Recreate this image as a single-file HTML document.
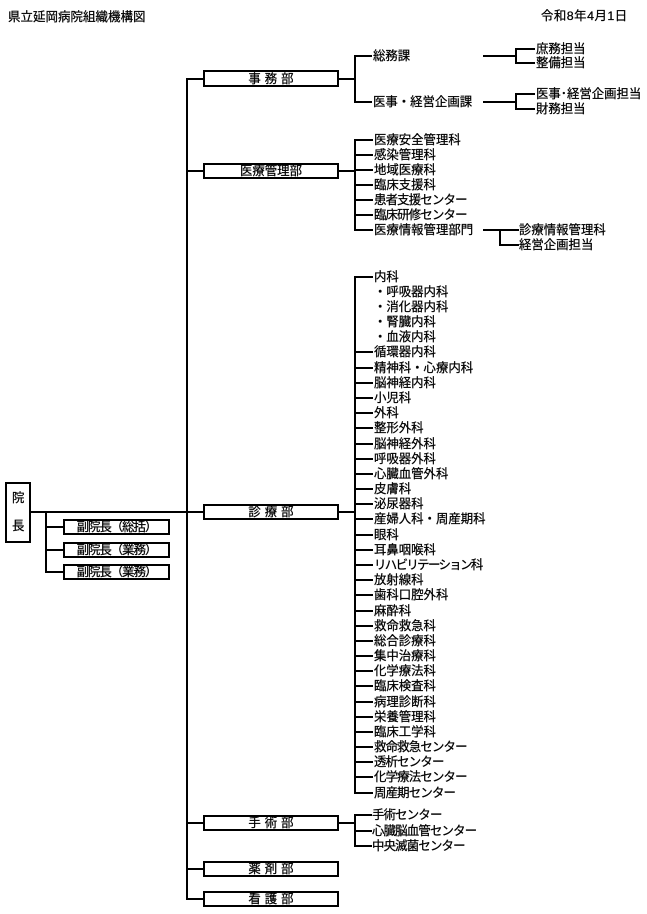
<!DOCTYPE html>
<html><head><meta charset="utf-8">
<style>
html,body{margin:0;padding:0;background:#fff;}
body{width:647px;height:914px;position:relative;overflow:hidden;font-family:"Liberation Sans","Noto Sans CJK JP",sans-serif;color:#000;}
.t{position:absolute;font-size:12.4px;line-height:14px;white-space:nowrap;-webkit-text-stroke:0.25px #000;}
.h{position:absolute;height:2px;background:#000;}
.v{position:absolute;width:2px;background:#000;}
.b{position:absolute;box-sizing:border-box;border:2px solid #000;background:#fff;display:flex;align-items:center;justify-content:center;font-size:12.4px;line-height:12px;white-space:nowrap;-webkit-text-stroke:0.25px #000;}
.sp{letter-spacing:4px;padding-left:4px;}
.k{letter-spacing:-0.8px;}
</style></head><body>

<div class="t" style="left:8px;top:10px;font-size:12.5px;">県立延岡病院組織機構図</div>
<div class="t" style="left:541px;top:9px;letter-spacing:0.5px;">令和8年4月1日</div>

<!-- trunk -->
<div class="v" style="left:186px;top:78px;height:822px;"></div>

<!-- 院長 -->
<div class="b" style="left:5px;top:482px;width:26px;height:61px;"></div>
<div class="t" style="left:12px;top:491px;">院</div>
<div class="t" style="left:12px;top:519px;">長</div>
<div class="h" style="left:30px;top:511px;width:173px;"></div>

<!-- 副院長 -->
<div class="v" style="left:45px;top:511px;height:62px;"></div>
<div class="h" style="left:45px;top:526px;width:18px;"></div>
<div class="h" style="left:45px;top:549px;width:18px;"></div>
<div class="h" style="left:45px;top:571px;width:18px;"></div>
<div class="b" style="left:63px;top:519px;width:107px;height:16px;letter-spacing:-1px;">副院長（総括）</div>
<div class="b" style="left:63px;top:542px;width:107px;height:16px;letter-spacing:-1px;">副院長（業務）</div>
<div class="b" style="left:63px;top:564px;width:107px;height:16px;letter-spacing:-1px;">副院長（業務）</div>

<!-- 事務部 -->
<div class="h" style="left:186px;top:78px;width:17px;"></div>
<div class="b sp" style="left:203px;top:70px;width:136px;height:17px;">事務部</div>
<div class="h" style="left:338px;top:78px;width:17px;"></div>
<div class="v" style="left:354px;top:55px;height:48px;"></div>
<div class="h" style="left:354px;top:55px;width:18px;"></div>
<div class="h" style="left:354px;top:101px;width:18px;"></div>
<div class="t" style="left:373px;top:49px;">総務課</div>
<div class="t" style="left:373px;top:95px;">医事・経営企画課</div>
<div class="h" style="left:483px;top:55px;width:34px;"></div>
<div class="v" style="left:515px;top:48px;height:16px;"></div>
<div class="h" style="left:515px;top:48px;width:20px;"></div>
<div class="h" style="left:515px;top:62px;width:20px;"></div>
<div class="t" style="left:536px;top:42px;">庶務担当</div>
<div class="t" style="left:536px;top:56px;">整備担当</div>
<div class="h" style="left:483px;top:101px;width:34px;"></div>
<div class="v" style="left:515px;top:93px;height:17px;"></div>
<div class="h" style="left:515px;top:93px;width:20px;"></div>
<div class="h" style="left:515px;top:108px;width:20px;"></div>
<div class="t" style="left:536px;top:87px;">医事･経営企画担当</div>
<div class="t" style="left:536px;top:102px;">財務担当</div>

<!-- 医療管理部 -->
<div class="h" style="left:186px;top:170px;width:17px;"></div>
<div class="b" style="left:203px;top:163px;width:136px;height:16px;">医療管理部</div>
<div class="h" style="left:338px;top:170px;width:17px;"></div>
<div class="v" style="left:354px;top:139px;height:92px;"></div>
<div class="h" style="left:354px;top:139px;width:19px;"></div>
<div class="h" style="left:354px;top:154px;width:19px;"></div>
<div class="h" style="left:354px;top:169px;width:19px;"></div>
<div class="h" style="left:354px;top:184px;width:19px;"></div>
<div class="h" style="left:354px;top:199px;width:19px;"></div>
<div class="h" style="left:354px;top:214px;width:19px;"></div>
<div class="h" style="left:354px;top:229px;width:19px;"></div>
<div class="t" style="left:374px;top:133px;">医療安全管理科</div>
<div class="t" style="left:374px;top:148px;">感染管理科</div>
<div class="t" style="left:374px;top:163px;">地域医療科</div>
<div class="t" style="left:374px;top:178px;">臨床支援科</div>
<div class="t k" style="left:374px;top:193px;">患者支援センター</div>
<div class="t k" style="left:374px;top:208px;">臨床研修センター</div>
<div class="t" style="left:374px;top:223px;">医療情報管理部門</div>
<div class="h" style="left:483px;top:229px;width:36px;"></div>
<div class="v" style="left:499px;top:229px;height:17px;"></div>
<div class="h" style="left:499px;top:244px;width:20px;"></div>
<div class="t" style="left:519px;top:223px;">診療情報管理科</div>
<div class="t" style="left:519px;top:238px;">経営企画担当</div>

<!-- 診療部 -->
<div class="b sp" style="left:203px;top:504px;width:136px;height:16px;">診療部</div>
<div class="h" style="left:338px;top:511px;width:17px;"></div>
<div class="v" style="left:354px;top:276px;height:518px;"></div>

<div class="h" style="left:354px;top:275.5px;width:19px;"></div>
<div class="t" style="left:374px;top:269.5px;">内科</div>
<div class="t" style="left:374px;top:284.7px;">・呼吸器内科</div>
<div class="t" style="left:374px;top:299.9px;">・消化器内科</div>
<div class="t" style="left:374px;top:315px;">・腎臓内科</div>
<div class="t" style="left:374px;top:330.2px;">・血液内科</div>
<div class="h" style="left:354px;top:351.4px;width:19px;"></div>
<div class="t" style="left:374px;top:345.4px;">循環器内科</div>
<div class="h" style="left:354px;top:366.6px;width:19px;"></div>
<div class="t" style="left:374px;top:360.6px;">精神科・心療内科</div>
<div class="h" style="left:354px;top:381.8px;width:19px;"></div>
<div class="t" style="left:374px;top:375.8px;">脳神経内科</div>
<div class="h" style="left:354px;top:396.9px;width:19px;"></div>
<div class="t" style="left:374px;top:390.9px;">小児科</div>
<div class="h" style="left:354px;top:412.1px;width:19px;"></div>
<div class="t" style="left:374px;top:406.1px;">外科</div>
<div class="h" style="left:354px;top:427.3px;width:19px;"></div>
<div class="t" style="left:374px;top:421.3px;">整形外科</div>
<div class="h" style="left:354px;top:442.5px;width:19px;"></div>
<div class="t" style="left:374px;top:436.5px;">脳神経外科</div>
<div class="h" style="left:354px;top:457.7px;width:19px;"></div>
<div class="t" style="left:374px;top:451.7px;">呼吸器外科</div>
<div class="h" style="left:354px;top:472.8px;width:19px;"></div>
<div class="t" style="left:374px;top:466.8px;">心臓血管外科</div>
<div class="h" style="left:354px;top:488px;width:19px;"></div>
<div class="t" style="left:374px;top:482px;">皮膚科</div>
<div class="h" style="left:354px;top:503.2px;width:19px;"></div>
<div class="t" style="left:374px;top:497.2px;">泌尿器科</div>
<div class="h" style="left:354px;top:518.4px;width:19px;"></div>
<div class="t" style="left:374px;top:512.4px;">産婦人科・周産期科</div>
<div class="h" style="left:354px;top:533.6px;width:19px;"></div>
<div class="t" style="left:374px;top:527.6px;">眼科</div>
<div class="h" style="left:354px;top:548.7px;width:19px;"></div>
<div class="t" style="left:374px;top:542.7px;">耳鼻咽喉科</div>
<div class="h" style="left:354px;top:563.9px;width:19px;"></div>
<div class="t" style="left:374px;top:557.9px;letter-spacing:-1.6px;">リハビリテーション科</div>
<div class="h" style="left:354px;top:579.1px;width:19px;"></div>
<div class="t" style="left:374px;top:573.1px;">放射線科</div>
<div class="h" style="left:354px;top:594.3px;width:19px;"></div>
<div class="t" style="left:374px;top:588.3px;">歯科口腔外科</div>
<div class="h" style="left:354px;top:609.5px;width:19px;"></div>
<div class="t" style="left:374px;top:603.5px;">麻酔科</div>
<div class="h" style="left:354px;top:624.6px;width:19px;"></div>
<div class="t" style="left:374px;top:618.6px;">救命救急科</div>
<div class="h" style="left:354px;top:639.8px;width:19px;"></div>
<div class="t" style="left:374px;top:633.8px;">総合診療科</div>
<div class="h" style="left:354px;top:655px;width:19px;"></div>
<div class="t" style="left:374px;top:649px;">集中治療科</div>
<div class="h" style="left:354px;top:670.2px;width:19px;"></div>
<div class="t" style="left:374px;top:664.2px;">化学療法科</div>
<div class="h" style="left:354px;top:685.4px;width:19px;"></div>
<div class="t" style="left:374px;top:679.4px;">臨床検査科</div>
<div class="h" style="left:354px;top:700.5px;width:19px;"></div>
<div class="t" style="left:374px;top:694.5px;">病理診断科</div>
<div class="h" style="left:354px;top:715.7px;width:19px;"></div>
<div class="t" style="left:374px;top:709.7px;">栄養管理科</div>
<div class="h" style="left:354px;top:730.9px;width:19px;"></div>
<div class="t" style="left:374px;top:724.9px;">臨床工学科</div>
<div class="h" style="left:354px;top:746.1px;width:19px;"></div>
<div class="t k" style="left:374px;top:740.1px;">救命救急センター</div>
<div class="h" style="left:354px;top:761.3px;width:19px;"></div>
<div class="t k" style="left:374px;top:755.3px;">透析センター</div>
<div class="h" style="left:354px;top:776.4px;width:19px;"></div>
<div class="t k" style="left:374px;top:770.4px;">化学療法センター</div>
<div class="h" style="left:354px;top:791.6px;width:19px;"></div>
<div class="t k" style="left:374px;top:785.6px;">周産期センター</div>

<!-- 手術部 -->
<div class="h" style="left:186px;top:822px;width:17px;"></div>
<div class="b sp" style="left:203px;top:815px;width:136px;height:16px;">手術部</div>
<div class="h" style="left:338px;top:822px;width:17px;"></div>
<div class="v" style="left:354px;top:814px;height:33px;"></div>
<div class="h" style="left:354px;top:814px;width:18px;"></div>
<div class="h" style="left:354px;top:829.5px;width:18px;"></div>
<div class="h" style="left:354px;top:845px;width:18px;"></div>
<div class="t k" style="left:372px;top:808px;">手術センター</div>
<div class="t k" style="left:372px;top:823.5px;">心臓脳血管センター</div>
<div class="t k" style="left:372px;top:838.5px;">中央滅菌センター</div>

<!-- 薬剤部 -->
<div class="h" style="left:186px;top:868px;width:17px;"></div>
<div class="b sp" style="left:203px;top:861px;width:136px;height:16px;">薬剤部</div>

<!-- 看護部 -->
<div class="h" style="left:186px;top:898px;width:17px;"></div>
<div class="b sp" style="left:203px;top:891px;width:136px;height:16px;">看護部</div>

</body></html>
